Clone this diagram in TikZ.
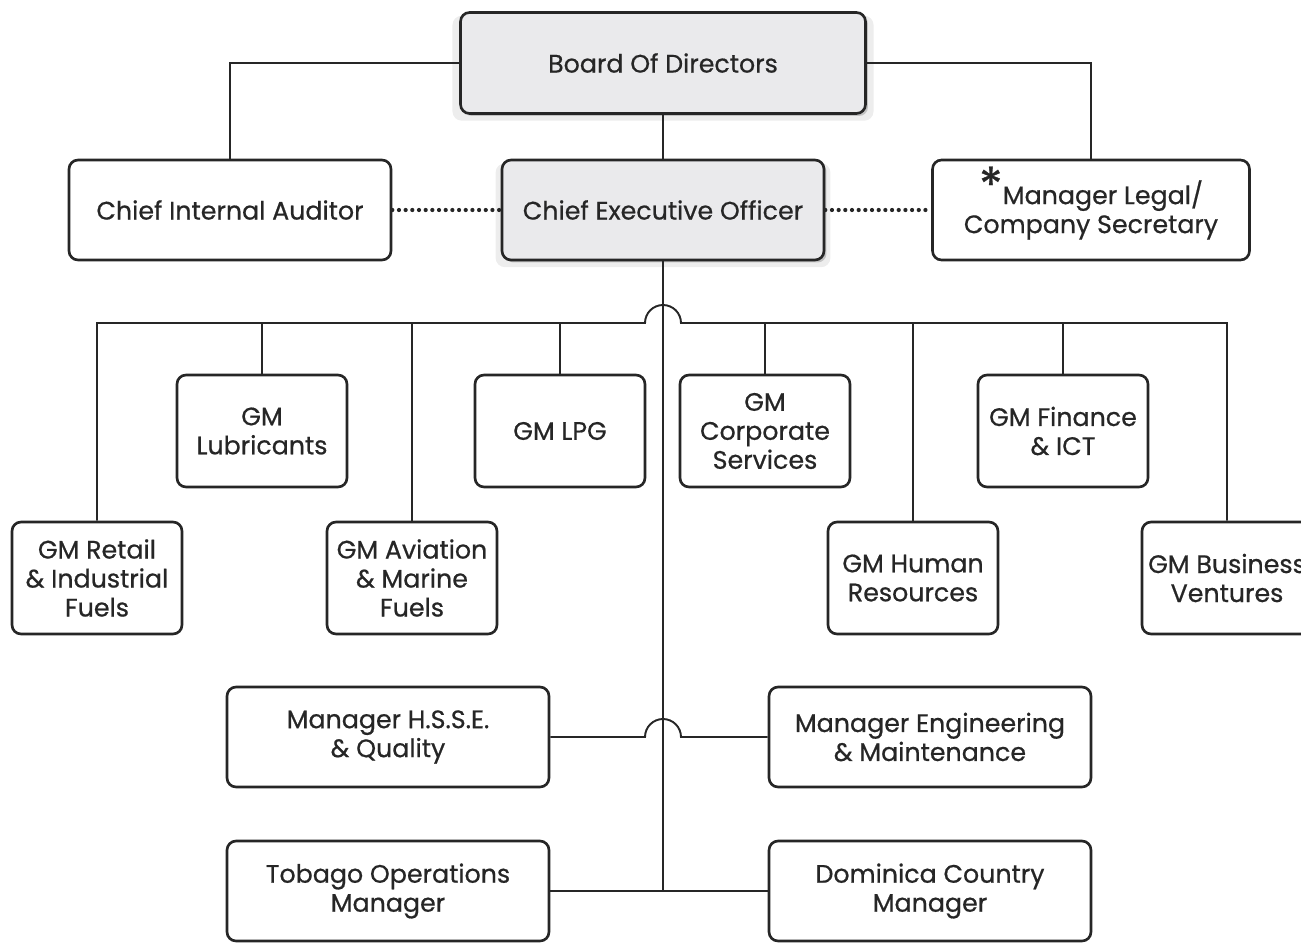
\documentclass[tikz,border=0pt]{standalone}
\usepackage{fontspec}
\setmainfont{Poppins}[FakeBold=0.6]
\usetikzlibrary{calc,shadows}
\definecolor{inkgray}{HTML}{262626}
\definecolor{boxgray}{HTML}{EAEAEC}

\tikzset{
  unit/.style={draw=inkgray, line width=1.5pt, rounded corners=0.18cm, fill=white,
    align=center, text=inkgray, inner sep=0pt,
    font=\fontsize{14.4}{16.5}\selectfont},
  widebox/.style={unit, minimum width=6.44cm, minimum height=2.0cm},
  gmbox/.style={unit, minimum width=3.4cm, minimum height=2.24cm},
  topbox/.style={fill=boxgray,
    general shadow={fill=black!7, shadow scale=1.04, shadow yshift=-0.1cm},
    drop shadow={fill=black!40, shadow xshift=0.05cm, shadow yshift=-0.05cm}},
  link/.style={draw=inkgray, line width=1.1pt},
  dotlink/.style={draw=inkgray, line width=2.4pt, line cap=round, dash pattern=on 0pt off 3.8pt},
}

\begin{document}
\begin{tikzpicture}[x=0.02cm, y=-0.02cm]
    \useasboundingbox (0,0) rectangle (1301,943);

    % top level
    \node[unit, topbox, minimum width=8.1cm, minimum height=2.02cm] (board) at (663,63) {Board Of Directors};
    \node[widebox, topbox] (ceo) at (663,210) {Chief Executive Officer};
    \node[widebox] (auditor) at (230,210) {Chief Internal Auditor};
    \node[widebox, minimum width=6.34cm] (legal) at (1091,210)
        {{\fontsize{28}{16}\selectfont\smash{\raisebox{0.05ex}{*}}}Manager Legal/\\Company Secretary};

    % general managers
    \node[gmbox] (lubric) at (262,431) {GM\\Lubricants};
    \node[gmbox] (lpg) at (560,431) {GM LPG};
    \node[gmbox] (corp) at (765,431) {GM\\Corporate\\Services};
    \node[gmbox] (finance) at (1063,431) {GM Finance\\\& ICT};
    \node[gmbox] (retail) at (97,578) {GM Retail\\\& Industrial\\Fuels};
    \node[gmbox] (aviation) at (412,578) {GM Aviation\\\& Marine\\Fuels};
    \node[gmbox] (hr) at (913,578) {GM Human\\Resources};
    \node[gmbox] (business) at (1227,578) {GM Business\\Ventures};

    % managers
    \node[widebox] (hsse) at (388,737) {Manager H.S.S.E.\\\& Quality};
    \node[widebox] (eng) at (930,737) {Manager Engineering\\\& Maintenance};
    \node[widebox] (tobago) at (388,891) {Tobago Operations\\Manager};
    \node[widebox] (dominica) at (930,891) {Dominica Country\\Manager};

    % lines
    \draw[link] (board.west) -| (auditor.north);
    \draw[link] (board.east) -| (legal.north);
    \draw[link] (board.south) -- (ceo.north);
    \draw[dotlink] (auditor.east) -- (ceo.west);
    \draw[dotlink] (ceo.east) -- (legal.west);

    \coordinate (busL) at (645,323);
    \coordinate (hop) at ($(ceo.south |- hsse.east)+(-18,0)$);
    \draw[link] (ceo.south) -- (ceo.south |- tobago.east);
    \draw[link] (retail.north) |- (busL) arc[start angle=180, end angle=0, radius=0.36cm] -| (business.north);
    \foreach \n in {lubric,lpg,aviation,corp,finance,hr}
        \draw[link] (\n.north) -- (\n.north |- busL);
    \draw[link] (hsse.east) -- (hop) arc[start angle=180, end angle=0, radius=0.36cm] -- (eng.west);
    \draw[link] (tobago.east) -- (dominica.west);
\end{tikzpicture}
\end{document}
